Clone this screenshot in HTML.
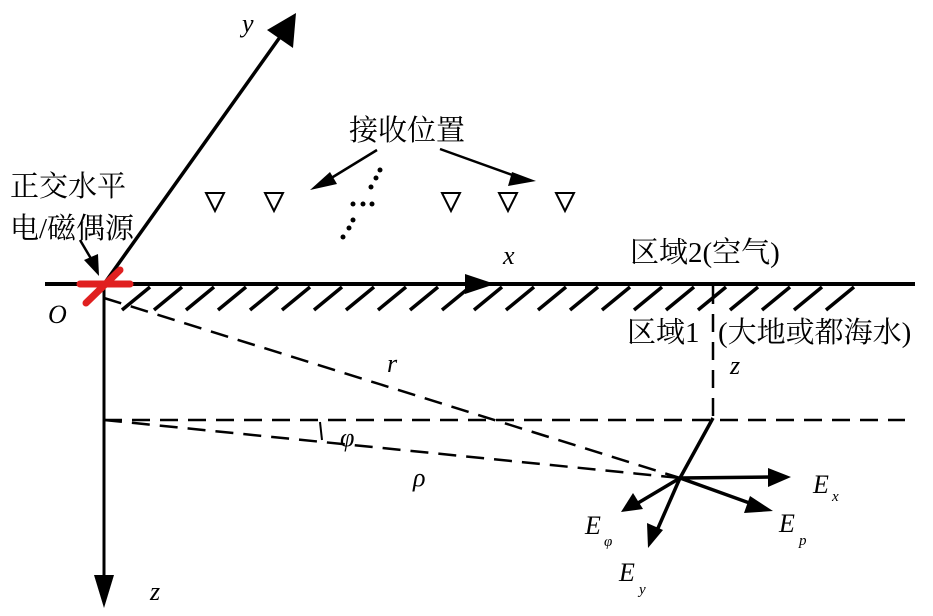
<!DOCTYPE html>
<html><head><meta charset="utf-8"><style>
html,body{margin:0;padding:0;background:#fff;}
svg{display:block}
.cj{font-family:"Liberation Serif","Noto Serif CJK SC",serif;font-size:29px;fill:#000}
.it{font-family:"Liberation Serif",serif;font-style:italic;font-size:26px;fill:#000}
.sb{font-family:"Liberation Serif",serif;font-style:italic;font-size:15px;fill:#000}
</style></head><body>
<svg width="933" height="616" viewBox="0 0 933 616" xmlns="http://www.w3.org/2000/svg">
<g stroke="#000" fill="none">
<line x1="45" y1="284" x2="915" y2="284" stroke-width="4"/>
<polygon points="495,284 465,274 465,294" fill="#000" stroke="none"/>
<line x1="104" y1="284" x2="104" y2="585" stroke-width="3"/>
<polygon points="104,608 94,575 114,575" fill="#000" stroke="none"/>
<line x1="104" y1="284" x2="285" y2="30" stroke-width="3.5"/>
<polygon points="296,13 293,48 267,30" fill="#000" stroke="none"/>
<g stroke-width="3.5">
<line x1="122" y1="310" x2="150" y2="287"/><line x1="154" y1="310" x2="182" y2="287"/><line x1="186" y1="310" x2="214" y2="287"/><line x1="218" y1="310" x2="246" y2="287"/><line x1="250" y1="310" x2="278" y2="287"/><line x1="282" y1="310" x2="310" y2="287"/><line x1="314" y1="310" x2="342" y2="287"/><line x1="346" y1="310" x2="374" y2="287"/><line x1="378" y1="310" x2="406" y2="287"/><line x1="410" y1="310" x2="438" y2="287"/><line x1="442" y1="310" x2="470" y2="287"/><line x1="474" y1="310" x2="502" y2="287"/><line x1="506" y1="310" x2="534" y2="287"/><line x1="538" y1="310" x2="566" y2="287"/><line x1="570" y1="310" x2="598" y2="287"/><line x1="602" y1="310" x2="630" y2="287"/><line x1="634" y1="310" x2="662" y2="287"/><line x1="666" y1="310" x2="694" y2="287"/><line x1="698" y1="310" x2="726" y2="287"/><line x1="730" y1="310" x2="758" y2="287"/><line x1="762" y1="310" x2="790" y2="287"/><line x1="794" y1="310" x2="822" y2="287"/><line x1="826" y1="310" x2="854" y2="287"/>
</g>
<g stroke-width="2.5" stroke-dasharray="18,10">
<line x1="104" y1="298" x2="680" y2="478"/>
<line x1="104" y1="420" x2="905" y2="420"/>
<line x1="104" y1="420" x2="680" y2="478"/>
<line x1="713" y1="286" x2="713" y2="420"/>
</g>
<line x1="320" y1="422" x2="322" y2="440" stroke-width="2"/>
<g stroke-width="3.5">
<line x1="680" y1="478" x2="713" y2="418"/>
<line x1="680" y1="478" x2="772" y2="477"/>
<line x1="680" y1="478" x2="755" y2="505"/>
<line x1="680" y1="478" x2="638" y2="503"/>
<line x1="680" y1="478" x2="655" y2="535"/>
</g>
<g fill="#000" stroke="none">
<polygon points="791,477 768,468 768,487"/>
<polygon points="773,511 750,496 744,513"/>
<polygon points="621,512 633,493 643,509"/>
<polygon points="648,548 647,523 663,530"/>
<polygon points="310,190 330,172 337,184"/>
<polygon points="536,181 512,172 508,186"/>
</g>
<line x1="377" y1="150" x2="328" y2="180" stroke-width="2.5"/>
<line x1="440" y1="149" x2="515" y2="176" stroke-width="2.5"/>
<line x1="80" y1="240" x2="93" y2="262" stroke-width="2.5"/>
<polygon points="99,276 84,260 98,254" fill="#000" stroke="none"/>
<g stroke-width="2">
<polygon points="206,193 224,193 215,211"/>
<polygon points="265,193 283,193 274,211"/>
<polygon points="442,193 460,193 451,211"/>
<polygon points="499,193 517,193 508,211"/>
<polygon points="556,193 574,193 565,211"/>
</g>
<g stroke="#e02020" stroke-width="7" stroke-linecap="round">
<line x1="80" y1="284" x2="130" y2="284"/>
<line x1="86" y1="303" x2="120" y2="270"/>
</g>
</g>
<g fill="#000">
<circle cx="380" cy="170" r="2.5"/><circle cx="376" cy="178" r="2.5"/><circle cx="371" cy="187" r="2.5"/>
<circle cx="353" cy="204" r="2.5"/><circle cx="363" cy="204" r="2.5"/><circle cx="372" cy="204" r="2.5"/>
<circle cx="353" cy="220" r="2.5"/><circle cx="349" cy="228" r="2.5"/><circle cx="343" cy="237" r="2.5"/>
</g>
<text class="cj" x="349" y="140" font-size="31">接收位置</text>
<text class="cj" x="10" y="196">正交水平</text>
<text class="cj" x="10" y="238">电/磁偶源</text>
<text class="cj" x="630" y="262">区域2(空气)</text>
<text class="cj" x="627" y="342">区域1</text>
<text class="cj" x="718" y="342">(大地或都海水)</text>
<text class="it" x="242" y="32">y</text>
<text class="it" x="503" y="264">x</text>
<text class="it" x="48" y="323">O</text>
<text class="it" x="387" y="372">r</text>
<text class="it" x="340" y="446">φ</text>
<text class="it" x="413" y="486">ρ</text>
<text class="it" x="730" y="374">z</text>
<text class="it" x="150" y="600">z</text>
<text class="it" x="813" y="493">E</text><text class="sb" x="832" y="501">x</text>
<text class="it" x="779" y="532">E</text><text class="sb" x="799" y="545">p</text>
<text class="it" x="585" y="534">E</text><text class="sb" x="604" y="546">φ</text>
<text class="it" x="619" y="581">E</text><text class="sb" x="639" y="594">y</text>
</svg>
</body></html>
